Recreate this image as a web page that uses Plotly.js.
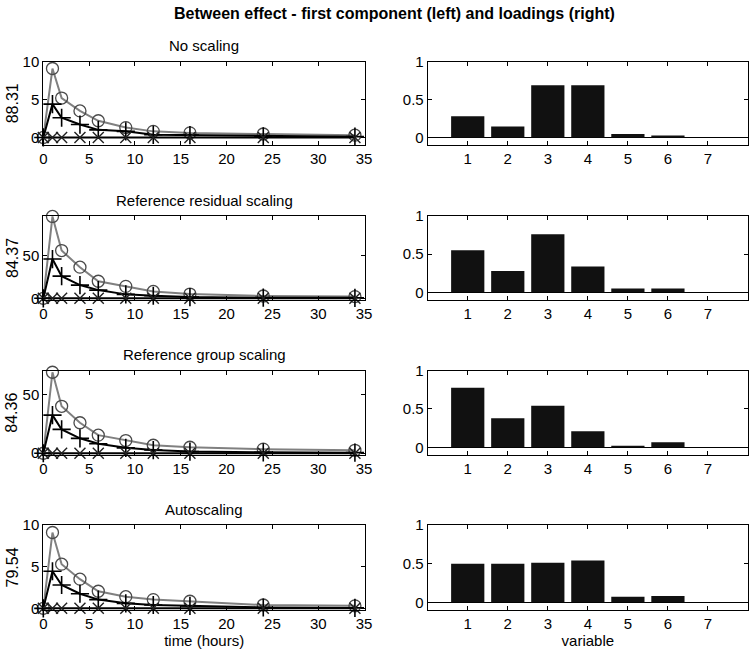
<!DOCTYPE html>
<html>
<head>
<meta charset="utf-8">
<script src="https://cdn.plot.ly/plotly-3.0.1.min.js"></script>
<style>
  body { margin: 0; background: #fff; }
  #chart { width: 750px; height: 655px; }
</style>
</head>
<body>
<div id="chart"></div>
<script>
// Between effect - scores (left) and loadings (right)

const timeHours = [0, 1, 2, 4, 6, 9, 12, 16, 24, 34];
const variables = [1, 2, 3, 4, 5, 6, 7];
const varTicks = ["1", "2", "3", "4", "5", "6", "7"];

const panelTitles = ["No scaling", "Reference residual scaling", "Reference group scaling", "Autoscaling"];
const explained = ["88.31", "84.37", "84.36", "79.54"];

// scores: circle group, plus group, cross group
const noScalingCircle = [0, 9.1, 5.2, 3.5, 2.2, 1.3, 0.8, 0.6, 0.45, 0.3];
const noScalingPlus = [0, 4.4, 2.6, 1.7, 1.0, 0.8, 0.35, 0.3, 0.15, 0.1];
const noScalingCross = [0, 0, 0, 0, 0, 0, 0, 0, 0, 0];

const residualCircle = [0, 96, 56, 36.5, 20, 14, 8, 5, 2.7, 2];
const residualPlus = [0, 46, 26, 15.5, 9.6, 4.6, 3, 1.4, 0.7, 0.5];
const residualCross = [0, 0, 0, 0, 0, 0, 0, 0, 0, 0];

const groupCircle = [0, 69, 40, 26, 15.4, 10.8, 6.8, 5.1, 3.5, 2.5];
const groupPlus = [0, 32.5, 20.3, 12.7, 8.1, 4.6, 2.7, 1.4, 0.8, 0.5];
const groupCross = [0, 0, 0, 0, 0, 0, 0, 0, 0, 0];

const autoCircle = [0, 9.1, 5.3, 3.5, 2.05, 1.4, 1.05, 0.85, 0.4, 0.3];
const autoPlus = [0, 4.45, 2.8, 1.75, 1.05, 0.6, 0.4, 0.3, 0.1, 0.05];
const autoCross = [0, 0, 0, 0, 0, 0, 0, 0, 0, 0];

// loadings
const noScalingLoad = [0.28, 0.145, 0.69, 0.69, 0.045, 0.027, 0];
const residualLoad = [0.55, 0.28, 0.76, 0.34, 0.05, 0.05, 0];
const groupLoad = [0.775, 0.38, 0.54, 0.21, 0.02, 0.065, 0];
const autoLoad = [0.5, 0.5, 0.51, 0.54, 0.07, 0.08, 0];

const scoreSets = [
  [noScalingCircle, noScalingPlus, noScalingCross],
  [residualCircle, residualPlus, residualCross],
  [groupCircle, groupPlus, groupCross],
  [autoCircle, autoPlus, autoCross],
];
const loadSets = [noScalingLoad, residualLoad, groupLoad, autoLoad];

const scoreRanges = [[-1, 10], [-2, 96.5], [-1.5, 70.5], [-0.2, 10]];
const scoreTicks = [[0, 5, 10], [0, 50], [0, 50], [0, 5, 10]];

const config = { responsive: false, displayModeBar: false, staticPlot: true };

const W = 750, H = 655;
const rowsPx = [[61.7, 145], [216, 300], [370.5, 455], [525, 610]];
const leftPx = [43.3, 365];
const rightPx = [427.7, 748];

const fam = "Liberation Sans, Arial, sans-serif";
const font = { family: fam, size: 15, color: "#000" };

const axisBase = {
  showline: true,
  linecolor: "#000",
  linewidth: 1,
  mirror: "allticks",
  ticks: "inside",
  ticklen: 4,
  tickcolor: "#000",
  showgrid: false,
  zeroline: false,
  tickfont: font,
  fixedrange: true,
};

const data = [];
const layout = {
  width: W,
  height: H,
  margin: { t: 0, l: 0, r: 0, b: 0 },
  paper_bgcolor: "#fff",
  plot_bgcolor: "#fff",
  showlegend: false,
  font: font,
  annotations: [],
};

layout.annotations.push({
  text: "<b>Between effect - first component (left) and loadings (right)</b>",
  xref: "paper", yref: "paper",
  x: 395 / W, y: 1 - 13 / H,
  xanchor: "center", yanchor: "middle",
  showarrow: false,
  font: { family: fam, size: 16, color: "#000" },
});

for (let i = 0; i < 4; i++) {
  const yDom = [1 - rowsPx[i][1] / H, 1 - rowsPx[i][0] / H];
  const li = 2 * i + 1;
  const ri = 2 * i + 2;
  const xl = "x" + li, yl = "y" + li, xr = "x" + ri, yr = "y" + ri;
  const sets = scoreSets[i];

  // circle series (gray)
  data.push({
    x: timeHours, y: sets[0], xaxis: xl, yaxis: yl,
    type: "scatter", mode: "lines+markers",
    line: { color: "#808080", width: 2 },
    marker: { symbol: "circle-open", size: 12, color: "#4a4a4a", line: { width: 1.3, color: "#4a4a4a" } },
    cliponaxis: false,
  });
  // plus series
  data.push({
    x: timeHours, y: sets[1], xaxis: xl, yaxis: yl,
    type: "scatter", mode: "lines+markers",
    line: { color: "#000", width: 2 },
    marker: { symbol: "cross-thin-open", size: 13, color: "#000", line: { width: 1.6, color: "#000" } },
    cliponaxis: false,
  });
  // cross series
  data.push({
    x: timeHours, y: sets[2], xaxis: xl, yaxis: yl,
    type: "scatter", mode: "lines+markers",
    line: { color: "#000", width: 2 },
    marker: { symbol: "x-thin-open", size: 11, color: "#222", line: { width: 1.4, color: "#222" } },
    cliponaxis: false,
  });

  // loadings bars
  data.push({
    x: variables, y: loadSets[i], xaxis: xr, yaxis: yr,
    type: "bar", width: 0.83,
    marker: { color: "#111", line: { width: 0 } },
  });

  layout["xaxis" + li] = Object.assign({}, axisBase, {
    domain: [leftPx[0] / W, leftPx[1] / W], anchor: yl,
    range: [0, 35.1], tickvals: [0, 5, 10, 15, 20, 25, 30, 35],
  });
  layout["yaxis" + li] = Object.assign({}, axisBase, {
    domain: yDom, anchor: xl,
    range: scoreRanges[i], tickvals: scoreTicks[i],
  });
  layout["xaxis" + ri] = Object.assign({}, axisBase, {
    domain: [rightPx[0] / W, rightPx[1] / W], anchor: yr,
    range: [0, 8], tickvals: variables, ticktext: varTicks,
  });
  layout["yaxis" + ri] = Object.assign({}, axisBase, {
    domain: yDom, anchor: xr,
    range: [-0.1, 1], tickvals: [0, 0.5, 1], ticktext: ["0", "0.5", "1"],
    zeroline: true, zerolinecolor: "#000", zerolinewidth: 1,
  });

  // panel title
  layout.annotations.push({
    text: panelTitles[i],
    xref: "paper", yref: "paper",
    x: (leftPx[0] + leftPx[1]) / 2 / W, y: 1 - (rowsPx[i][0] - 16) / H,
    xanchor: "center", yanchor: "middle",
    showarrow: false,
    font: { family: fam, size: 15, color: "#000" },
  });
  // explained variance as y label
  layout.annotations.push({
    text: explained[i],
    xref: "paper", yref: "paper",
    x: 12 / W, y: 1 - (rowsPx[i][0] + rowsPx[i][1]) / 2 / H,
    xanchor: "center", yanchor: "middle",
    textangle: -90,
    showarrow: false,
    font: { family: fam, size: 16, color: "#000" },
  });
}

layout.xaxis7.title = { text: "time (hours)", font: { family: fam, size: 15, color: "#000" }, standoff: 2 };
layout.xaxis8.title = { text: "variable", font: { family: fam, size: 15, color: "#000" }, standoff: 2 };

Plotly.newPlot("chart", data, layout, config);
</script>
</body>
</html>
